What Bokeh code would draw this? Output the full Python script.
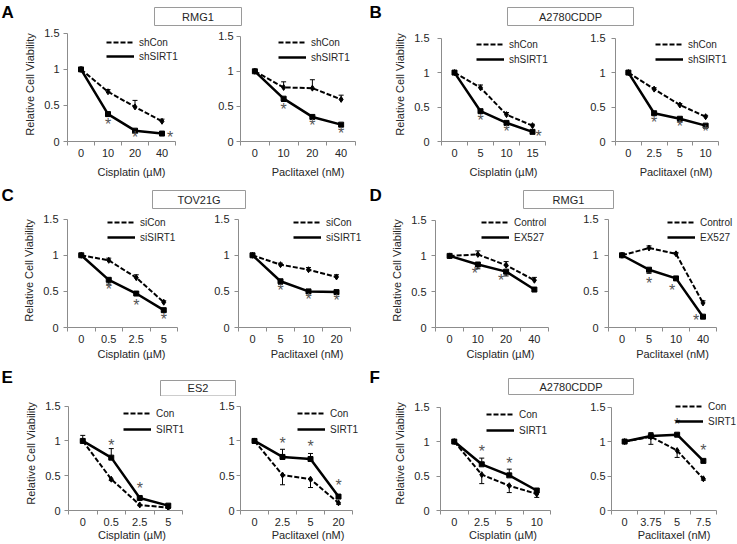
from bokeh.plotting import figure
from bokeh.models import (Range1d, LinearAxis, FixedTicker, Legend, LegendItem, Whisker,
                          TeeHead, ColumnDataSource, CustomJSTickFormatter)
from bokeh.layouts import column, row
from bokeh.embed import file_html
from bokeh.resources import INLINE
from bokeh.core.properties import value

# ---------------------------------------------------------------- data
# Panel A: RMG1, shRNA
A_cis_dose = ["0", "10", "20", "40"]
A_cis_ctrl = [1.00, 0.69, 0.48, 0.28]
A_cis_ctrl_err = [0.01, 0.03, 0.09, 0.03]
A_cis_trt = [1.00, 0.38, 0.15, 0.11]
A_cis_trt_err = [0.01, 0.03, 0.02, 0.01]
A_cis_star = [None, 0.23, 0.06, 0.06]
A_pac_dose = ["0", "10", "20", "40"]
A_pac_ctrl = [1.00, 0.77, 0.76, 0.60]
A_pac_ctrl_err = [0.01, 0.08, 0.12, 0.06]
A_pac_trt = [1.00, 0.61, 0.35, 0.24]
A_pac_trt_err = [0.01, 0.04, 0.02, 0.02]
A_pac_star = [None, 0.45, 0.23, 0.11]

# Panel B: A2780CDDP, shRNA
B_cis_dose = ["0", "5", "10", "15"]
B_cis_ctrl = [1.00, 0.78, 0.39, 0.23]
B_cis_ctrl_err = [0.01, 0.04, 0.03, 0.02]
B_cis_trt = [1.00, 0.44, 0.27, 0.14]
B_cis_trt_err = [0.01, 0.02, 0.02, 0.02]
B_cis_star = [None, 0.30, 0.14, 0.07]
B_pac_dose = ["0", "2.5", "5", "10"]
B_pac_ctrl = [1.00, 0.76, 0.53, 0.36]
B_pac_ctrl_err = [0.01, 0.02, 0.02, 0.02]
B_pac_trt = [1.00, 0.41, 0.33, 0.23]
B_pac_trt_err = [0.01, 0.02, 0.02, 0.02]
B_pac_star = [None, 0.28, 0.22, 0.14]

# Panel C: TOV21G, siRNA
C_cis_dose = ["0", "0.5", "2.5", "5"]
C_cis_ctrl = [1.00, 0.93, 0.69, 0.35]
C_cis_ctrl_err = [0.01, 0.03, 0.04, 0.02]
C_cis_trt = [1.00, 0.66, 0.47, 0.24]
C_cis_trt_err = [0.01, 0.06, 0.02, 0.02]
C_cis_star = [None, 0.53, 0.31, 0.11]
C_pac_dose = ["0", "5", "10", "20"]
C_pac_ctrl = [1.00, 0.87, 0.80, 0.70]
C_pac_ctrl_err = [0.01, 0.02, 0.03, 0.03]
C_pac_trt = [1.00, 0.64, 0.50, 0.49]
C_pac_trt_err = [0.01, 0.04, 0.02, 0.03]
C_pac_star = [None, 0.51, 0.39, 0.37]

# Panel D: RMG1, EX527
D_cis_dose = ["0", "10", "20", "40"]
D_cis_ctrl = [1.00, 1.02, 0.87, 0.66]
D_cis_ctrl_err = [0.01, 0.05, 0.05, 0.04]
D_cis_trt = [1.00, 0.88, 0.78, 0.53]
D_cis_trt_err = [0.01, 0.06, 0.06, 0.02]
D_cis_star = [None, 0.75, 0.65, None]
D_pac_dose = ["0", "5", "10", "40"]
D_pac_ctrl = [1.00, 1.10, 1.02, 0.34]
D_pac_ctrl_err = [0.01, 0.03, 0.02, 0.03]
D_pac_trt = [1.00, 0.80, 0.68, 0.15]
D_pac_trt_err = [0.01, 0.05, 0.02, 0.02]
D_pac_star = [None, 0.61, 0.51, 0.10]

# Panel E: ES2, SIRT1 overexpression
E_cis_dose = ["0", "0.5", "2.5", "5"]
E_cis_ctrl = [1.00, 0.45, 0.08, 0.04]
E_cis_ctrl_err = [0.01, 0.02, 0.01, 0.01]
E_cis_trt = [1.00, 0.76, 0.18, 0.07]
E_cis_trt_err = [0.08, 0.13, 0.02, 0.02]
E_cis_star = [None, 0.93, 0.31, None]
E_pac_dose = ["0", "2.5", "5", "20"]
E_pac_ctrl = [1.00, 0.51, 0.45, 0.11]
E_pac_ctrl_err = [0.01, 0.14, 0.12, 0.02]
E_pac_trt = [1.00, 0.77, 0.74, 0.20]
E_pac_trt_err = [0.01, 0.11, 0.08, 0.02]
E_pac_star = [None, 0.97, 0.92, 0.36]

# Panel F: A2780CDDP, SIRT1 overexpression
F_cis_dose = ["0", "2.5", "5", "10"]
F_cis_ctrl = [1.00, 0.52, 0.36, 0.24]
F_cis_ctrl_err = [0.01, 0.13, 0.10, 0.05]
F_cis_trt = [1.00, 0.67, 0.51, 0.29]
F_cis_trt_err = [0.01, 0.09, 0.09, 0.02]
F_cis_star = [None, 0.85, 0.68, None]
F_pac_dose = ["0", "3.75", "5", "7.5"]
F_pac_ctrl = [1.00, 1.07, 0.87, 0.46]
F_pac_ctrl_err = [0.01, 0.11, 0.10, 0.02]
F_pac_trt = [1.00, 1.08, 1.10, 0.72]
F_pac_trt_err = [0.01, 0.05, 0.02, 0.02]
F_pac_star = [None, None, 1.25, 0.87]

panel_letters = ["A", "B", "C", "D", "E", "F"]
panel_titles = ["RMG1", "A2780CDDP", "TOV21G", "RMG1", "ES2", "A2780CDDP"]
legend_labels = [("shCon", "shSIRT1"), ("shCon", "shSIRT1"), ("siCon", "siSIRT1"),
                 ("Control", "EX527"), ("Con", "SIRT1"), ("Con", "SIRT1")]
x_titles = ["Cisplatin (\u00b5M)", "Paclitaxel (nM)"]
y_title = "Relative Cell Viability"
y_ticks = [0, 0.5, 1, 1.5]
y_max = 1.5

# ---------------------------------------------------------------- style / layout
FONT = "Liberation Sans"
GREY = "#8c8c8c"
TXT = "#262626"
STAR = "#555555"
W = 736
COL_X = [0, 195, 375, 565]
COL_W = [195, 180, 190, 171]
# header top, header height, plots top, plots height
ROWS = [(0, 27, 27, 153), (180, 33, 213, 149), (362, 34, 396, 147)]
TITLE_STANDOFF = [6, 2, 0]
LEG_DY = 6
HEADER = [
    dict(letter_y=2, boxes=[(154, 241, 7, 25), (507, 633, 7, 25)]),
    dict(letter_y=5, boxes=[(152, 245, 10, 28), (523, 613, 10, 28)]),
    dict(letter_y=5, boxes=[(160, 235, 18, 33.5), (508, 633, 16, 32)]),
]
LETTER_X = [1, 369]

# per subplot: axis box (L, T, R, B) page px, legend (x, first row y, pitch),
# y label gap, star x offsets
LAYOUT = [
    [dict(frame=(67, 33, 175, 144), leg=(106, 39, 14), gap=8, sdx=[0, 0, 0, 8]),
     dict(frame=(240, 36, 355, 145), leg=(278, 40, 15), gap=7, sdx=[0, 0, 0, 0]),
     dict(frame=(441, 38, 545, 145), leg=(476, 42, 15), gap=12, sdx=[0, 0, 0, 6]),
     dict(frame=(615, 38, 718, 145), leg=(655, 42, 15), gap=10, sdx=[0, 0, 0, 0])],
    [dict(frame=(67, 219, 177, 334), leg=(107, 223, 15), gap=9, sdx=[0, 0, 0, 0]),
     dict(frame=(238, 219, 350, 334), leg=(293, 223, 15), gap=9, sdx=[0, 0, 0, 0]),
     dict(frame=(435, 220, 548, 334), leg=(481, 223, 15), gap=9, sdx=[0, -3, -5, 0]),
     dict(frame=(608, 219, 716, 334), leg=(667, 223, 15), gap=10, sdx=[0, 0, -4, -7])],
    [dict(frame=(68, 406, 182, 514), leg=(123, 411, 16), gap=8, sdx=[0, 0, 0, 0]),
     dict(frame=(240, 406, 352, 514), leg=(297, 411, 16), gap=6, sdx=[0, 0, 0, 0]),
     dict(frame=(440, 407, 550, 514), leg=(486, 412, 16), gap=11, sdx=[0, 0, 0, 0]),
     dict(frame=(611, 407, 716, 514), leg=(675, 404, 15), gap=6, sdx=[0, 0, 0, 0])],
]

SERIES = [
    [(A_cis_dose, A_cis_ctrl, A_cis_ctrl_err, A_cis_trt, A_cis_trt_err, A_cis_star),
     (A_pac_dose, A_pac_ctrl, A_pac_ctrl_err, A_pac_trt, A_pac_trt_err, A_pac_star),
     (B_cis_dose, B_cis_ctrl, B_cis_ctrl_err, B_cis_trt, B_cis_trt_err, B_cis_star),
     (B_pac_dose, B_pac_ctrl, B_pac_ctrl_err, B_pac_trt, B_pac_trt_err, B_pac_star)],
    [(C_cis_dose, C_cis_ctrl, C_cis_ctrl_err, C_cis_trt, C_cis_trt_err, C_cis_star),
     (C_pac_dose, C_pac_ctrl, C_pac_ctrl_err, C_pac_trt, C_pac_trt_err, C_pac_star),
     (D_cis_dose, D_cis_ctrl, D_cis_ctrl_err, D_cis_trt, D_cis_trt_err, D_cis_star),
     (D_pac_dose, D_pac_ctrl, D_pac_ctrl_err, D_pac_trt, D_pac_trt_err, D_pac_star)],
    [(E_cis_dose, E_cis_ctrl, E_cis_ctrl_err, E_cis_trt, E_cis_trt_err, E_cis_star),
     (E_pac_dose, E_pac_ctrl, E_pac_ctrl_err, E_pac_trt, E_pac_trt_err, E_pac_star),
     (F_cis_dose, F_cis_ctrl, F_cis_ctrl_err, F_cis_trt, F_cis_trt_err, F_cis_star),
     (F_pac_dose, F_pac_ctrl, F_pac_ctrl_err, F_pac_trt, F_pac_trt_err, F_pac_star)],
]


def style_text_axis(ax):
    ax.major_label_text_font = FONT
    ax.major_label_text_font_size = "11px"
    ax.major_label_text_color = TXT
    ax.axis_label_text_font = FONT
    ax.axis_label_text_font_size = "11px"
    ax.axis_label_text_font_style = "normal"
    ax.axis_label_text_color = TXT


def make_sub(r, c):
    doses, ctrl, ctrl_err, trt, trt_err, stars = SERIES[r][c]
    lay = LAYOUT[r][c]
    _, _, top, h = ROWS[r]
    x0, w = COL_X[c], COL_W[c]
    L, T, R, B = lay["frame"]
    n = len(doses)
    panel = r * 2 + c // 2
    ctrl_up = panel < 4
    # the drawing area reaches the figure's top and right edges (so legends are not cut);
    # the axes themselves are bounded to the category slots [0, n] and to [0, 1.5]
    x_end = n * (x0 + w - L) / (R - L)
    y_end = y_max * (B - top) / (B - T)
    xs = [i + 0.5 for i in range(n)]
    p = figure(width=w, height=h, x_range=Range1d(0, x_end), y_range=Range1d(0, y_end),
               x_axis_location=None, output_backend="svg", toolbar_location=None,
               min_border_left=L - x0, min_border_right=0,
               min_border_top=0, min_border_bottom=top + h - B,
               outline_line_color=None, border_fill_color="white", background_fill_color="white")
    p.grid.visible = False

    ya = p.yaxis[0]
    ya.ticker = FixedTicker(ticks=y_ticks)
    ya.bounds = (0, y_max)
    ya.formatter = CustomJSTickFormatter(code="return String(tick)")
    ya.axis_line_color = GREY
    ya.major_tick_line_color = GREY
    ya.minor_tick_line_color = None
    ya.major_tick_out = 4
    ya.major_tick_in = 0
    ya.major_label_standoff = lay["gap"] - 4
    style_text_axis(ya)
    if c % 2 == 0:
        ya.axis_label = y_title
        ya.axis_label_standoff = 5

    xa = LinearAxis(ticker=FixedTicker(ticks=xs, minor_ticks=list(range(n + 1))),
                    formatter=CustomJSTickFormatter(args=dict(labels=doses),
                                                    code="return labels[Math.floor(tick)]"),
                    bounds=(0, n), axis_line_color=GREY,
                    major_tick_line_color=None, major_tick_out=0, major_tick_in=0,
                    minor_tick_line_color=GREY, minor_tick_out=4, minor_tick_in=0,
                    major_label_standoff=3, axis_label=x_titles[c % 2],
                    axis_label_standoff=TITLE_STANDOFF[r])
    style_text_axis(xa)
    p.add_layout(xa, "below")

    def src(vals, errs, up):
        hi = [v + e if up else v for v, e in zip(vals, errs)]
        lo = [v if up else v - e for v, e in zip(vals, errs)]
        return ColumnDataSource(dict(x=xs, y=vals, hi=hi, lo=lo))

    cs = src(ctrl, ctrl_err, ctrl_up)
    ts = src(trt, trt_err, not ctrl_up)
    for s, up in ((cs, ctrl_up), (ts, not ctrl_up)):
        head = TeeHead(size=5, line_color="black", line_width=1)
        p.add_layout(Whisker(source=s, base="x", upper="hi", lower="lo",
                             line_color="black", line_width=1,
                             upper_head=head if up else None,
                             lower_head=None if up else head))
    rc = p.line("x", "y", source=cs, line_color="black", line_width=2, line_dash="5 2")
    p.scatter("x", "y", source=cs, marker="diamond", size=6, color="black")
    rt = p.line("x", "y", source=ts, line_color="black", line_width=2.5)
    p.scatter("x", "y", source=ts, marker="square", size=5, color="black")

    sx = [x for x, s in zip(xs, stars) if s is not None]
    sy = [s for s in stars if s is not None]
    so = [o for o, s in zip(lay["sdx"], stars) if s is not None]
    p.text("x", "y", text="t", x_offset="xo",
           source=ColumnDataSource(dict(x=sx, y=sy, t=["*"] * len(sx), xo=so)),
           text_align="center", text_baseline="middle", text_font=value(FONT),
           text_font_size="16px", text_color=STAR)

    lx, ly, pitch = lay["leg"]
    spacing = pitch - 12
    leg_h = 24 + spacing
    leg_bottom = ly - 6 + leg_h + LEG_DY
    lab = legend_labels[panel]
    legend = Legend(items=[LegendItem(label=lab[0], renderers=[rc]),
                           LegendItem(label=lab[1], renderers=[rt])],
                    location=(lx - L, B - leg_bottom), padding=0, margin=0,
                    spacing=spacing, glyph_width=28, glyph_height=12, label_height=12,
                    label_standoff=5, label_text_font=FONT, label_text_font_size="10px",
                    label_text_color=TXT, border_line_color=None, background_fill_alpha=0)
    p.add_layout(legend)
    return p


def make_header(r):
    _, hh, _, _ = ROWS[r]
    cfg = HEADER[r]
    p = figure(width=W, height=hh, x_range=Range1d(0, W), y_range=Range1d(hh, 0),
               x_axis_location=None, y_axis_location=None, output_backend="svg",
               toolbar_location=None, min_border=0, min_border_left=0, min_border_right=0,
               min_border_top=0, min_border_bottom=0, outline_line_color=None)
    p.grid.visible = False
    letters = panel_letters[2 * r:2 * r + 2]
    titles = panel_titles[2 * r:2 * r + 2]
    p.text(x="x", y="y", text="t",
           source=ColumnDataSource(dict(x=LETTER_X, y=[cfg["letter_y"]] * 2, t=letters)),
           text_align="left", text_baseline="top", text_font=value(FONT),
           text_font_size="17px", text_font_style="bold", text_color="black")
    bl = [b[0] for b in cfg["boxes"]]
    br = [b[1] for b in cfg["boxes"]]
    bt = [b[2] for b in cfg["boxes"]]
    bb = [b[3] for b in cfg["boxes"]]
    p.quad(left=bl, right=br, top=bt, bottom=bb, fill_color="white", line_color="#9a9a9a",
           line_width=1)
    p.text(x="x", y="y", text="t",
           source=ColumnDataSource(dict(x=[(a + b) / 2 for a, b in zip(bl, br)],
                                        y=[(a + b) / 2 for a, b in zip(bt, bb)], t=titles)),
           text_align="center", text_baseline="middle", text_font=value(FONT),
           text_font_size="11px", text_color=TXT)
    return p


items = []
for r in range(3):
    items.append(make_header(r))
    items.append(row(*[make_sub(r, c) for c in range(4)], spacing=0))
layout = column(*items, spacing=0)

open("out.html", "w").write(file_html(layout, INLINE))
